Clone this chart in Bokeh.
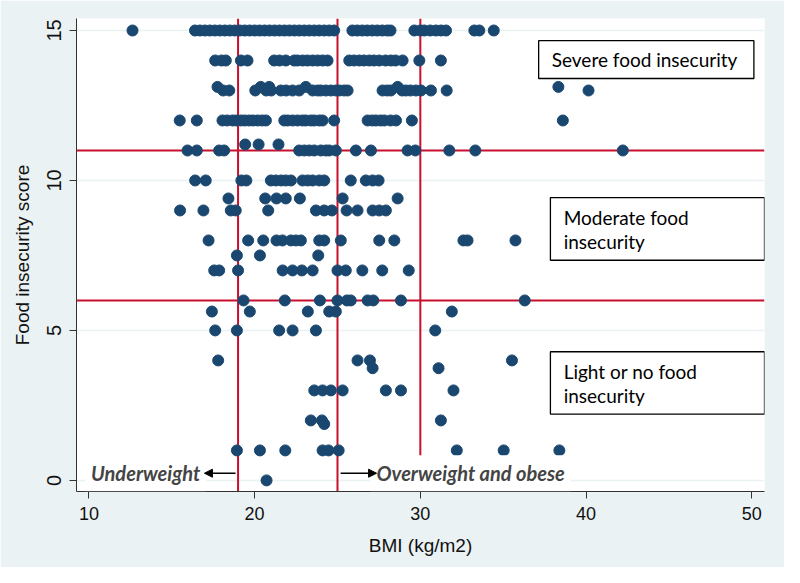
from bokeh.plotting import figure
from bokeh.models import Span, Label, BoxAnnotation, Arrow, NormalHead, Range1d, FixedTicker, ColumnDataSource
from bokeh.embed import file_html
from bokeh.resources import INLINE

# ---- data: BMI values read per food-insecurity-score row ----
score_levels = [15, 14, 13, 13.12, 12, 11, 11.2, 10, 9.4, 9, 8, 7.5, 7, 6, 5.63, 5, 4, 3.74, 3, 2, 1.88, 1, 0]
bmi_15 = [12.63, 16.4, 16.7, 17.0, 17.3, 17.6, 17.9, 18.2, 18.5, 18.8, 19.1, 19.4, 19.7, 20.0, 20.3, 20.6,
          20.9, 21.2, 21.5, 21.8, 22.1, 22.4, 22.7, 23.0, 23.3, 23.6, 23.9, 24.2, 24.5, 24.8,
          25.9, 26.2, 26.5, 26.8, 27.1, 27.4, 27.7, 28.0, 28.2, 29.64, 30.0, 30.24, 30.6, 30.94,
          31.25, 31.55, 33.26, 33.56, 34.43]
bmi_14 = [17.62, 18.0, 18.26, 19.17, 19.57, 21.18, 21.5, 21.88, 22.39, 22.59, 22.9, 23.19, 23.5, 23.8,
          24.1, 24.4, 25.71, 26.0, 26.32, 26.6, 26.92, 27.2, 27.52, 27.9, 28.22, 28.5, 28.93, 29.94, 31.24]
bmi_13 = [18.1, 18.47, 20.04, 20.7, 21.0, 21.58, 21.9, 22.29, 22.69, 23.5, 23.8, 24.0, 24.3, 24.6, 24.9,
          25.11, 25.4, 25.61, 27.72, 28.0, 28.22, 28.9, 29.13, 29.4, 29.73, 30.04, 30.64, 31.59, 40.15]
bmi_13_1 = [17.76, 20.37, 20.88, 23.09, 28.63, 38.33]
bmi_12 = [15.48, 16.51, 18.06, 18.35, 18.67, 18.9, 19.17, 19.4, 19.67, 19.9, 20.18, 20.45, 20.68, 21.79,
          22.0, 22.29, 22.59, 22.89, 23.09, 23.39, 23.6, 23.9, 24.1, 24.8, 26.82, 27.1, 27.32, 27.6,
          27.83, 28.2, 28.53, 29.49, 38.6]
bmi_11 = [15.95, 16.51, 17.86, 18.16, 22.69, 23.0, 23.3, 23.6, 24.0, 24.3, 24.5, 24.9, 26.11, 27.02,
          29.23, 29.7, 31.75, 33.32, 42.22]
bmi_11_2 = [19.43, 20.24, 21.44]
bmi_10 = [16.41, 17.05, 19.2, 19.5, 20.98, 21.28, 21.6, 21.88, 22.19, 22.89, 23.2, 23.5, 23.9, 24.2,
          25.8, 26.71, 27.12, 27.48]
bmi_9_4 = [18.42, 20.64, 21.32, 21.88, 22.73, 25.31, 28.63]
bmi_9 = [15.5, 16.91, 18.56, 18.86, 20.82, 23.7, 24.2, 24.66, 25.55, 26.21, 27.12, 27.52, 27.92]
bmi_8 = [17.22, 19.61, 20.52, 21.32, 21.68, 22.19, 22.49, 22.79, 23.9, 24.2, 25.2, 27.52, 28.43,
         32.6, 32.85, 35.74]
bmi_7_5 = [18.93, 20.32, 23.84]
bmi_7 = [17.56, 17.86, 19.0, 21.69, 22.29, 22.85, 23.5, 25.0, 25.5, 26.5, 27.7, 29.3]
bmi_6 = [19.33, 21.82, 23.94, 25.0, 25.57, 25.8, 26.82, 27.16, 28.83, 36.3]
bmi_5_6 = [17.42, 19.71, 23.21, 24.5, 24.9, 31.9]
bmi_5 = [17.62, 18.93, 21.48, 22.29, 23.7, 30.9]
bmi_4 = [17.8, 26.21, 26.96, 35.53]
bmi_3_7 = [27.12, 31.1]
bmi_3 = [23.6, 24.1, 24.6, 25.31, 27.92, 28.83, 32.0]
bmi_2 = [23.39, 24.06, 31.24]
bmi_1_9 = [24.2]
bmi_1 = [18.93, 20.32, 21.85, 24.1, 24.46, 25.07, 32.2, 35.03, 38.39]
bmi_0 = [20.72]

bmi_rows = [bmi_15, bmi_14, bmi_13, bmi_13_1, bmi_12, bmi_11, bmi_11_2, bmi_10, bmi_9_4, bmi_9, bmi_8,
            bmi_7_5, bmi_7, bmi_6, bmi_5_6, bmi_5, bmi_4, bmi_3_7, bmi_3, bmi_2, bmi_1_9, bmi_1, bmi_0]

x_ticks = [10, 20, 30, 40, 50]
y_ticks = [0, 5, 10, 15]
bmi_cutoffs = [19, 25, 30]
score_cutoffs = [6, 11]

xs, ys = [], []
for s, row in zip(score_levels, bmi_rows):
    xs.extend(row)
    ys.extend([s] * len(row))
src = ColumnDataSource(dict(bmi=xs, score=ys))

RED = "#c8102e"
BG = "#eaf2f3"
NAVY = "#1a476f"

p = figure(width=784, height=567, output_backend="svg", toolbar_location=None,
           x_range=Range1d(9.25, 50.77), y_range=Range1d(-0.37, 15.4),
           min_border_left=76, min_border_right=20, min_border_top=18, min_border_bottom=76)
p.border_fill_color = BG
p.background_fill_color = "white"
p.outline_line_color = None

p.xgrid.visible = False
p.ygrid.grid_line_color = BG
p.ygrid.grid_line_width = 1.5
p.ygrid.ticker = FixedTicker(ticks=y_ticks)

p.xaxis.ticker = FixedTicker(ticks=x_ticks)
p.yaxis.ticker = FixedTicker(ticks=y_ticks)
for ax in (p.xaxis, p.yaxis):
    ax.axis_line_color = "#333333"
    ax.major_tick_line_color = "#333333"
    ax.major_tick_out = 7
    ax.major_tick_in = 0
    ax.minor_tick_line_color = None
    ax.major_label_text_font = "Liberation Sans"
    ax.major_label_text_color = "#111111"
    ax.axis_label_text_font = "Liberation Sans"
    ax.axis_label_text_font_style = "normal"
    ax.axis_label_text_color = "#111111"
p.xaxis.major_label_text_font_size = "18px"
p.yaxis.major_label_text_font_size = "20px"
p.xaxis.axis_label_text_font_size = "19px"
p.yaxis.axis_label_text_font_size = "19px"
p.xaxis.major_label_standoff = 8
p.yaxis.major_label_standoff = 8
p.yaxis.major_label_orientation = "vertical"
p.xaxis.axis_label = "BMI (kg/m2)"
p.yaxis.axis_label = "Food insecurity score"
p.xaxis.axis_label_standoff = 12
p.yaxis.axis_label_standoff = 12

for v in bmi_cutoffs:
    p.add_layout(Span(location=v, dimension="height", line_color=RED, line_width=2, level="underlay"))
for v in score_cutoffs:
    p.add_layout(Span(location=v, dimension="width", line_color=RED, line_width=2, level="underlay"))

p.scatter("bmi", "score", source=src, size=11, fill_color=NAVY, line_color=NAVY)

# category boxes
TF = "Lato"
for (l, r, t, b) in [(37.14, 50.13, 14.66, 13.4), (37.85, 50.77, 9.43, 7.34), (37.85, 50.77, 4.29, 2.21)]:
    p.add_layout(BoxAnnotation(left=l, right=r, top=t, bottom=b, fill_color="white", fill_alpha=1,
                               line_color="black", line_width=1.3, line_alpha=1))
for (x, y, t) in [(37.93, 14.03, "Severe food insecurity"),
                  (38.65, 8.77, "Moderate food"), (38.65, 7.97, "insecurity"),
                  (38.65, 3.62, "Light or no food"), (38.65, 2.82, "insecurity")]:
    p.add_layout(Label(x=x, y=y, text=t, text_font=TF, text_font_size="19px", text_baseline="middle",
                       text_align="left", text_color="black"))

# weight category annotations
p.add_layout(Label(x=17.08, y=0.24, text="Underweight", text_font=TF, text_font_size="20px",
                   text_font_style="bold italic", text_baseline="middle", text_align="right",
                   background_fill_color="white", background_fill_alpha=1, padding=6))
p.add_layout(Label(x=27.0, y=0.24, text="Overweight and obese", text_font=TF, text_font_size="20px",
                   text_font_style="bold italic", text_baseline="middle", text_align="left",
                   background_fill_color="white", background_fill_alpha=1, padding=6))
p.add_layout(Arrow(end=NormalHead(size=8, fill_color="black", line_color="black"),
                   x_start=18.85, y_start=0.24, x_end=16.97, y_end=0.24, line_width=1.5, line_color="black"))
p.add_layout(Arrow(end=NormalHead(size=8, fill_color="black", line_color="black"),
                   x_start=25.19, y_start=0.24, x_end=27.36, y_end=0.24, line_width=1.5, line_color="black"))

open("out.html", "w").write(file_html(p, INLINE))
